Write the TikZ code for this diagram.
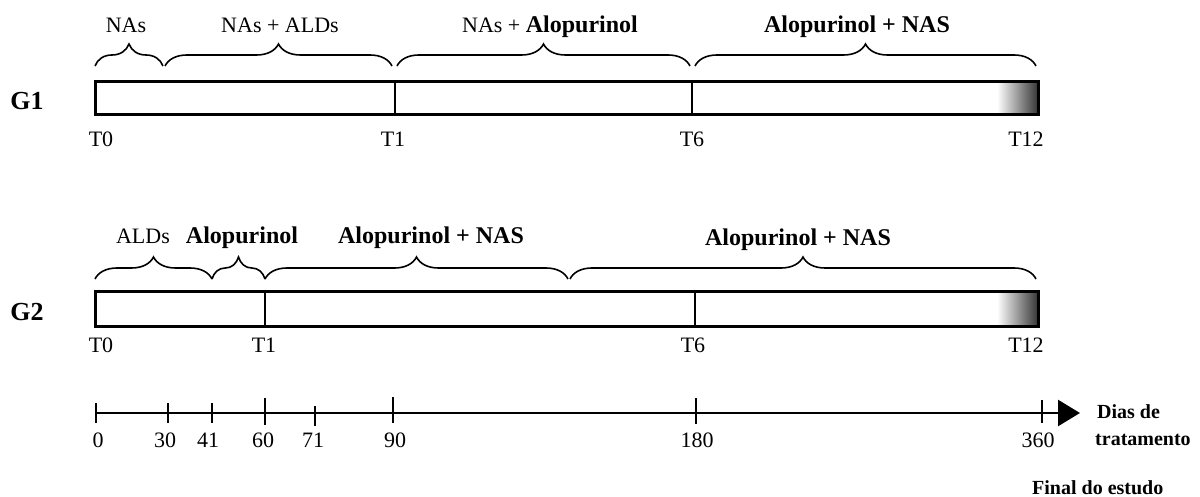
\documentclass[tikz,border=0pt]{standalone}
\usepackage{fontspec}
\setmainfont{Liberation Serif}
\usetikzlibrary{decorations.pathreplacing,arrows.meta}
\begin{document}
\begin{tikzpicture}[x=1pt,y=-1pt,
  lbl/.style={font=\fontsize{22}{24}\selectfont, inner sep=0pt, anchor=base},
  blbl/.style={font=\fontsize{24}{26}\selectfont\bfseries, inner sep=0pt, anchor=base},
  sbl/.style={font=\fontsize{20}{22}\selectfont\bfseries, inner sep=0pt, anchor=base west},
  grp/.style={font=\fontsize{26}{28}\selectfont\bfseries, inner sep=0pt, anchor=base},
  bar/.style={draw=black, line width=3pt},
  divider/.style={draw=black, line width=1.6pt},
  br/.style={decorate, decoration={brace, amplitude=22pt}, line width=1.6pt},
  tickmark/.style={line width=2.6pt},
]
\useasboundingbox (0,0) rectangle (1200,497);

% ---------- G1 ----------
\node[grp] (g1) at (27,110) {G1};
\shade[left color=white, right color=black!80] (997,81.5) rectangle (1038.5,114.5);
\draw[bar] (95.5,81.5) rectangle (1038.5,114.5);
\coordinate (g1t1a) at (395,81.5); \coordinate (g1t1b) at (395,114.5);
\coordinate (g1t6a) at (692,81.5); \coordinate (g1t6b) at (692,114.5);
\draw[divider] (g1t1a) -- (g1t1b);
\draw[divider] (g1t6a) -- (g1t6b);
\node[lbl] (g1T0) at (101,147) {T0};
\node[lbl] (g1T1) at (393,147) {T1};
\node[lbl] (g1T6) at (692,147) {T6};
\node[lbl] (g1T12) at (1026,147) {T12};

\coordinate (b1a) at (95,66);  \coordinate (b1b) at (163,66);
\coordinate (b2a) at (165,66); \coordinate (b2b) at (392,66);
\coordinate (b3a) at (397,66); \coordinate (b3b) at (690,66);
\coordinate (b4a) at (695,66); \coordinate (b4b) at (1036,66);
\draw[br] (b1a) -- (b1b);
\draw[br] (b2a) -- (b2b);
\draw[br] (b3a) -- (b3b);
\draw[br] (b4a) -- (b4b);
\node[lbl] (l1) at (126,33) {NAs};
\node[lbl] (l2) at (280,33) {NAs + ALDs};
\node[lbl] (l3) at (550,33) {NAs + \textbf{\fontsize{24}{26}\selectfont Alopurinol}};
\node[blbl] (l4) at (857,33) {Alopurinol + NAS};

% ---------- G2 ----------
\node[grp] (g2) at (27,320) {G2};
\shade[left color=white, right color=black!80] (997,291.5) rectangle (1038.5,326.5);
\draw[bar] (95.5,291.5) rectangle (1038.5,326.5);
\coordinate (g2t1a) at (265,291.5); \coordinate (g2t1b) at (265,326.5);
\coordinate (g2t6a) at (695,291.5); \coordinate (g2t6b) at (695,326.5);
\draw[divider] (g2t1a) -- (g2t1b);
\draw[divider] (g2t6a) -- (g2t6b);
\node[lbl] (g2T0) at (101,352) {T0};
\node[lbl] (g2T1) at (264,352) {T1};
\node[lbl] (g2T6) at (693,352) {T6};
\node[lbl] (g2T12) at (1026,352) {T12};

\coordinate (c1a) at (95,279);  \coordinate (c1b) at (212,279);
\coordinate (c2a) at (212,279); \coordinate (c2b) at (265,279);
\coordinate (c3a) at (265,279); \coordinate (c3b) at (568,279);
\coordinate (c4a) at (570,279); \coordinate (c4b) at (1036,279);
\draw[br] (c1a) -- (c1b);
\draw[br] (c2a) -- (c2b);
\draw[br] (c3a) -- (c3b);
\draw[br] (c4a) -- (c4b);
\node[lbl] (m1) at (143,244) {ALDs};
\node[blbl] (m2) at (242,244) {Alopurinol};
\node[blbl] (m3) at (431,244) {Alopurinol + NAS};
\node[blbl] (m4) at (798,246) {Alopurinol + NAS};

% ---------- timeline ----------
\coordinate (ax0) at (95,413);
\coordinate (ax1) at (1080,413);
\draw[line width=2.6pt, -{Triangle[length=22pt,width=26pt]}] (ax0) -- (ax1);
\draw[tickmark] (96,403) -- (96,423);
\draw[tickmark] (168,403) -- (168,423);
\draw[tickmark] (212,403) -- (212,423);
\draw[tickmark] (265,398) -- (265,425);
\draw[tickmark] (315,406) -- (315,426);
\draw[tickmark] (393,397) -- (393,423);
\draw[tickmark] (696,398) -- (696,424);
\draw[tickmark] (1042,400) -- (1042,423);
\node[lbl] (n0) at (98,447) {0};
\node[lbl] (n30) at (165,447) {30};
\node[lbl] (n41) at (208,447) {41};
\node[lbl] (n60) at (263,447) {60};
\node[lbl] (n71) at (313,447) {71};
\node[lbl] (n90) at (395,447) {90};
\node[lbl] (n180) at (697,447) {180};
\node[lbl] (n360) at (1038,447) {360};
\node[sbl] (dias) at (1097,418) {Dias de};
\node[sbl] (trat) at (1095,445) {tratamento};
\node[sbl] (fim) at (1032,494) {Final do estudo};
\end{tikzpicture}
\end{document}
